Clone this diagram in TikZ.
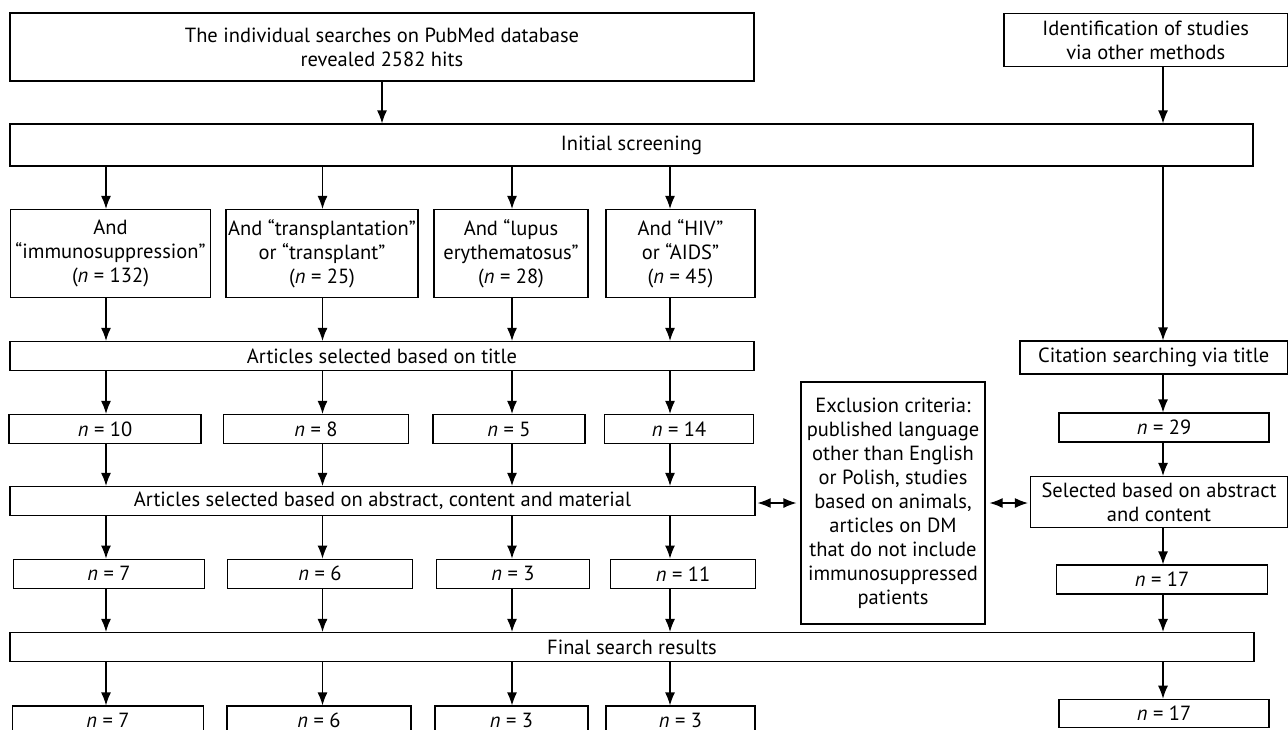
\documentclass[tikz,border=0pt]{standalone}
\usepackage{fontspec}
\setmainfont{PT Sans}
\usetikzlibrary{positioning,arrows.meta}

\begin{document}
\begin{tikzpicture}[x=1pt,y=-1pt,
      box/.style={draw,line width=1.2pt,align=center,inner sep=0pt,font=\fontsize{20.5}{24}\selectfont},
      sz/.style 2 args={minimum width=#1pt,minimum height=#2pt},
      edge/.style={-{Latex[length=13pt,width=10pt]},line width=1.2pt},
      both/.style={{Latex[length=13pt,width=10pt]}-{Latex[length=13pt,width=10pt]},line width=1.2pt},
    ]
    \useasboundingbox (0,0) rectangle (1288,729);
    \clip (0,0) rectangle (1288,729);
    \node[box,sz={744}{68}] (search) at (382,47) {The individual searches on PubMed database\\revealed 2582 hits};
    \node[box,sz={283.5}{53}] (ident) at (1145.75,40) {Identification of studies\\via other methods};
    \node[box,sz={1243}{42}] (screen) at (631.5,145) {Initial screening};
    \node[box,sz={200}{88}] (a1) at (110.5,253.5) {And\\“immunosuppression”\\(\textit{n} = 132)};
    \node[box,sz={192}{88}] (a2) at (322,253.5) {And “transplantation”\\or “transplant”\\(\textit{n} = 25)};
    \node[box,sz={154}{88}] (a3) at (511,253.5) {And “lupus\\erythematosus”\\(\textit{n} = 28)};
    \node[box,sz={149}{88}] (a4) at (680.5,253.5) {And “HIV”\\or “AIDS”\\(\textit{n} = 45)};
    \node[box,sz={744}{29}] (title) at (382,356) {Articles selected based on title};
    \node[box,sz={192}{29}] (b1) at (105,429) {\textit{n} = 10};
    \node[box,sz={185}{29}] (b2) at (316,429) {\textit{n} = 8};
    \node[box,sz={152}{29}] (b3) at (509,429) {\textit{n} = 5};
    \node[box,sz={149}{29}] (b4) at (679,429) {\textit{n} = 14};
    \node[box,sz={745}{29}] (abstract) at (382.5,501) {Articles selected based on abstract, content and material};
    \node[box,sz={191.5}{29}] (c1) at (109,573.7) {\textit{n} = 7};
    \node[box,sz={185}{29}] (c2) at (320,573.7) {\textit{n} = 6};
    \node[box,sz={153}{29}] (c3) at (513,573.7) {\textit{n} = 3};
    \node[box,sz={145}{29}] (c4) at (683,573.7) {\textit{n} = 11};
    \node[box,sz={1244}{29}] (final) at (632,647) {Final search results};
    \node[box,sz={191}{29}] (d1) at (108,720.5) {\textit{n} = 7};
    \node[box,sz={184}{29}] (d2) at (319,720.5) {\textit{n} = 6};
    \node[box,sz={153}{29}] (d3) at (511.5,720.5) {\textit{n} = 3};
    \node[box,sz={149}{29}] (d4) at (680.5,720.5) {\textit{n} = 3};
    \node[box,sz={184}{242}] (excl) at (893,503) {Exclusion criteria:\\published language\\other than English\\or Polish, studies\\based on animals,\\articles on DM\\that do not include\\immunosuppressed\\patients};
    \node[box,sz={267.5}{33}] (cite) at (1153.75,357.5) {Citation searching via title};
    \node[box,sz={210}{29}] (n29) at (1164,427.5) {\textit{n} = 29};
    \node[box,sz={257}{51}] (selabs) at (1159,502) {Selected based on abstract\\and content};
    \node[box,sz={211}{29}] (n17a) at (1162,579.5) {\textit{n} = 17};
    \node[box,sz={210}{28}] (n17b) at (1164,713.3) {\textit{n} = 17};
    \coordinate (k1) at (106,0);
    \coordinate (k2) at (322.5,0);
    \coordinate (k3) at (512,0);
    \coordinate (k4) at (670,0);
    \coordinate (k5) at (1163,0);
    \draw[edge] (search.south) -- (search.south |- screen.north);
    \draw[edge] (ident.south -| k5) -- (screen.north -| k5);
    \draw[edge] (screen.south -| k5) -- (cite.north -| k5);
    \foreach \i in {1,...,4}{
      \draw[edge] (screen.south -| k\i) -- (a\i.north -| k\i);
      \draw[edge] (a\i.south -| k\i) -- (title.north -| k\i);
      \draw[edge] (title.south -| k\i) -- (b\i.north -| k\i);
      \draw[edge] (b\i.south -| k\i) -- (abstract.north -| k\i);
      \draw[edge] (abstract.south -| k\i) -- (c\i.north -| k\i);
      \draw[edge] (c\i.south -| k\i) -- (final.north -| k\i);
      \draw[edge] (final.south -| k\i) -- (d\i.north -| k\i);
    }
    \foreach \p/\q in {cite/n29,n29/selabs,selabs/n17a,n17a/final,final/n17b}
      \draw[edge] (\p.south -| k5) -- (\q.north -| k5);
    \draw[both,shorten <=2pt,shorten >=4pt] (excl.west -| abstract.east) -- (excl.west);
    \draw[both,shorten <=4pt,shorten >=2pt] (excl.east) -- (excl.east -| selabs.west);
  \end{tikzpicture}
\end{document}
